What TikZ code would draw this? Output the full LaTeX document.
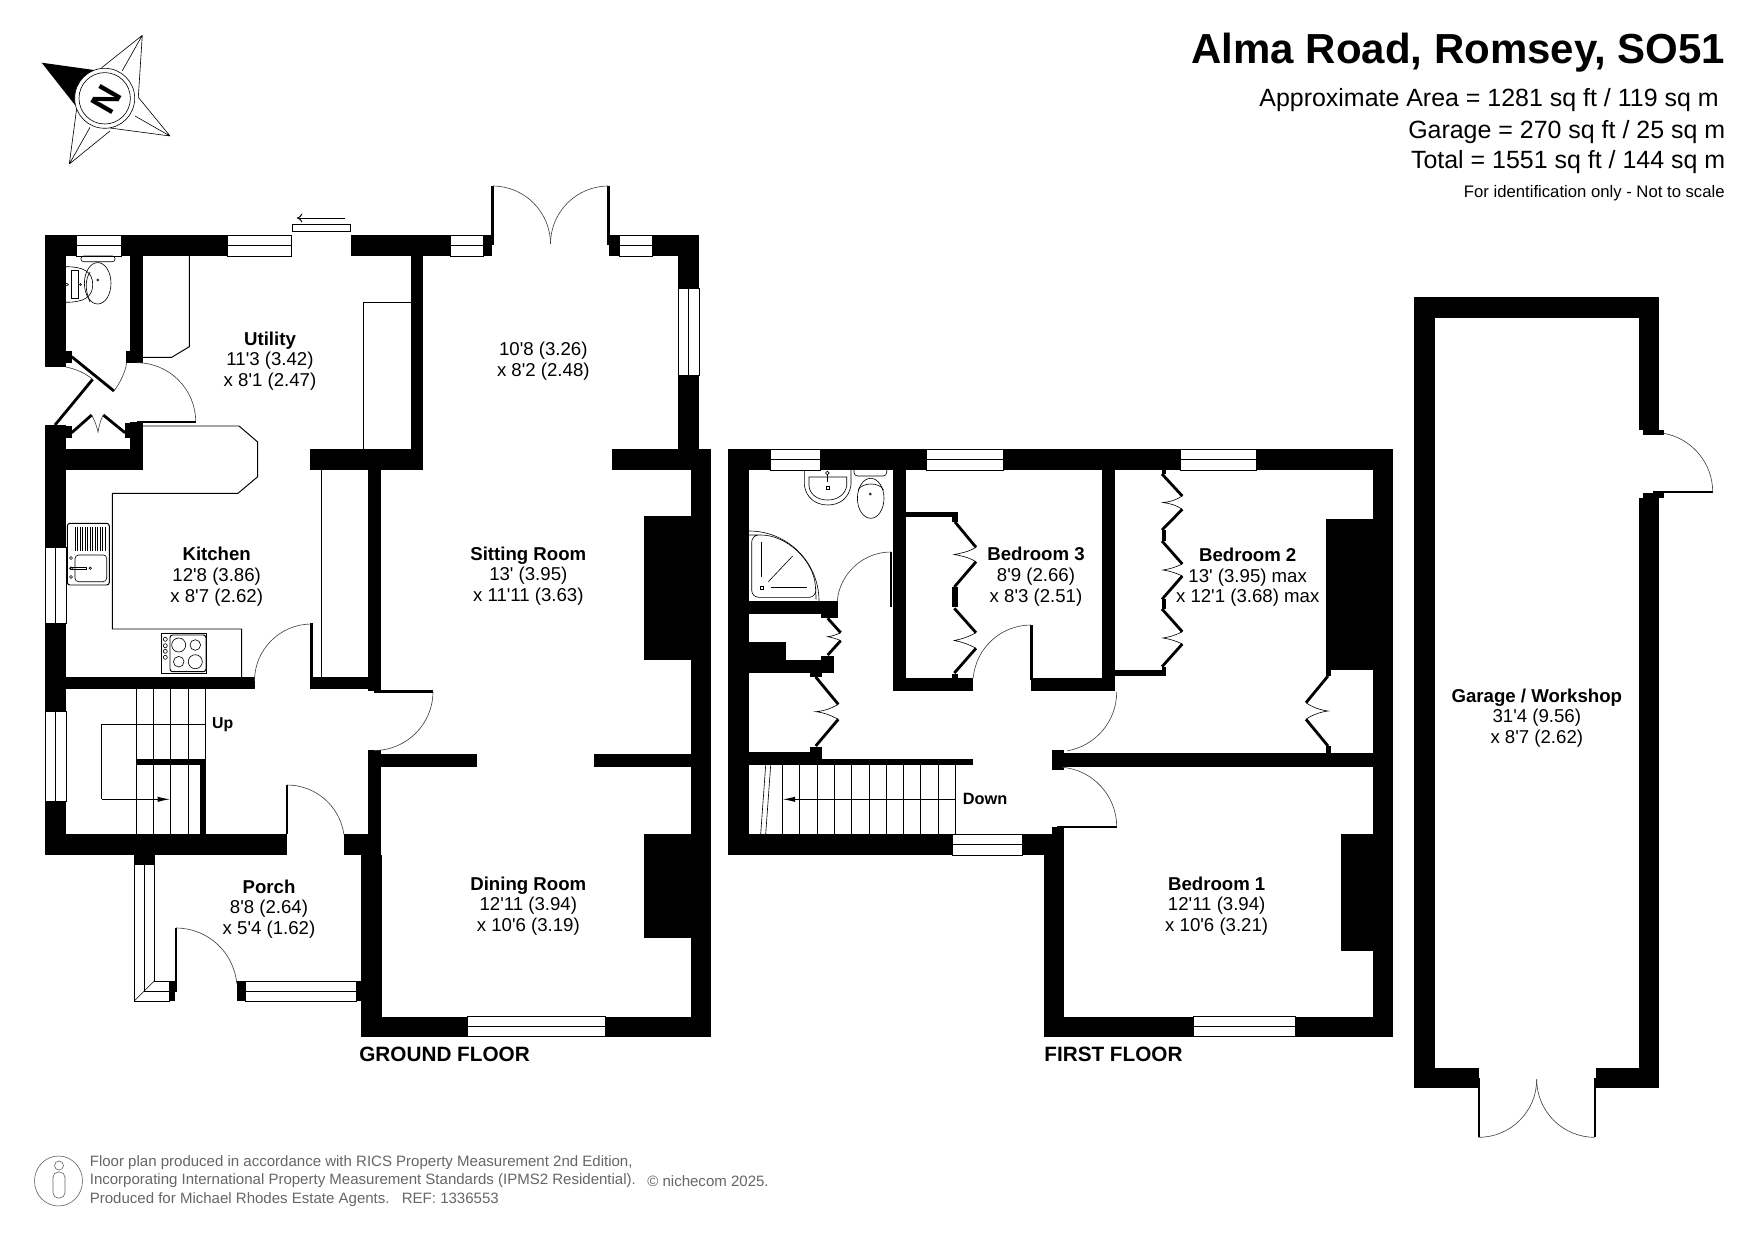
\documentclass[tikz,border=0pt]{standalone}
\usepackage{fontspec}
\usetikzlibrary{arrows.meta}
\newfontfamily\planfont{Liberation Sans}
\tikzset{
  wall/.style={fill=black},
  glazing/.style={draw=black,fill=white,line width=0.55pt},
  fitting/.style={draw=black,line width=0.55pt},
  finefitting/.style={draw=black,line width=0.35pt},
  doorswing/.style={draw=black!75,line width=0.35pt},
  doorleaf/.style={draw=black,line width=1.3pt},
  foldleaf/.style={draw=black,line width=1.6pt},
  roomtext/.style={font=\planfont\fontsize{10.6}{11.8}\selectfont,align=center,inner sep=0pt},
  floortext/.style={font=\planfont\bfseries\fontsize{11.8}{14}\selectfont,anchor=west,inner sep=0pt},
  headtext/.style={font=\planfont\fontsize{14.2}{16}\selectfont,anchor=east,inner sep=0pt},
  foottext/.style={font=\planfont\fontsize{8.55}{10}\selectfont,text=black!60,anchor=west,inner sep=0pt}
}

\begin{document}
\begin{tikzpicture}[x=0.02cm,y=-0.02cm]
\useasboundingbox (0,0) rectangle (1755,1241);
\fill[white] (0,0) rectangle (1755,1241);

% compass
\draw[finefitting] (142.3,35.3) -- (101.7,67.7) (142.3,35.3) -- (138.3,97.3) (142.3,35.3) -- (122.3,70.7);
\draw[finefitting] (170,136) -- (138.3,97.3) (170,136) -- (110,128) (170,136) -- (135,116);
\draw[finefitting] (69.3,164) -- (110,131) (69.3,164) -- (76.7,108.3) (69.3,164) -- (90,127.3);
\fill[wall] (41.7,62.7) -- (94,70) -- (75,105) -- cycle;
\draw[finefitting,fill=white] (104.7,98.3) circle (30);
\draw[finefitting] (104.7,98.3) circle (25.7);
\node[font=\planfont\bfseries\fontsize{20}{20}\selectfont,rotate=60,inner sep=0pt] (northmark) at (106,99) {N};

% title
\node[headtext,font=\planfont\bfseries\fontsize{23.9}{26}\selectfont] (title) at (1725.5,52.5) {Alma Road, Romsey, SO51};
\node[headtext] (areahouse) at (1719,100.5) {Approximate Area = 1281 sq ft / 119 sq m};
\node[headtext] (areagarage) at (1725.5,132) {Garage = 270 sq ft / 25 sq m};
\node[headtext] (areatotal) at (1725.5,162) {Total = 1551 sq ft / 144 sq m};
\node[headtext,font=\planfont\fontsize{9.5}{11}\selectfont] (scalenote) at (1725,193) {For identification only - Not to scale};

% ground floor walls
\fill[wall] (45,235) rectangle (291.7,256);
\fill[wall] (351,235) rectangle (492,256);
\fill[wall] (609,235) rectangle (699,256);
\fill[wall] (45,235) rectangle (66,367);
\fill[wall] (66,351) rectangle (71.7,363);
\fill[wall] (130,256) rectangle (142.7,363);
\fill[wall] (126,351) rectangle (130,363);
\fill[wall] (45,425) rectangle (66,855);
\fill[wall] (66,426) rectangle (71.7,438);
\fill[wall] (45,449) rectangle (142.7,470);
\fill[wall] (130,422) rectangle (142.7,470);
\fill[wall] (125,423) rectangle (130,438);
\fill[wall] (410.7,256) rectangle (422.7,449);
\fill[wall] (310,449) rectangle (422.7,470);
\fill[wall] (368,470) rectangle (381,691);
\fill[wall] (678,235) rectangle (699,470);
\fill[wall] (612,449) rectangle (711,470);
\fill[wall] (690.6,470) rectangle (711,1036.7);
\fill[wall] (66,677) rectangle (255,689);
\fill[wall] (313,677) rectangle (381,689);
\fill[wall] (368,750) rectangle (381,834);
\fill[wall] (368,754) rectangle (477,767);
\fill[wall] (594,754) rectangle (711,767);
\fill[wall] (45,834) rectangle (286.7,855);
\fill[wall] (344,834) rectangle (381,855);
\fill[wall] (361,855) rectangle (381.7,1036.7);
\fill[wall] (361,1016.7) rectangle (711,1036.7);
\fill[wall] (643.5,516) rectangle (690.6,660);
\fill[wall] (643.5,834) rectangle (690.6,938);
\fill[wall] (134.3,855) rectangle (154.7,864);
\fill[wall] (169,981) rectangle (175,1001);
\fill[wall] (237.3,981) rectangle (245.7,1001);
\fill[wall] (356,981) rectangle (361,1001);
\fill[wall] (135.7,759.3) rectangle (205.3,765);
\fill[wall] (200,759.3) rectangle (205.8,834);

% ground floor windows
\draw[glazing] (76.7,235) rectangle (121,256) (76.7,245.5) -- (121,245.5);
\draw[glazing] (227.7,235) rectangle (291.7,256) (227.7,245.5) -- (291.7,245.5);
\draw[glazing] (450,235) rectangle (483,256) (450,245.5) -- (483,245.5);
\draw[glazing] (619,235) rectangle (652,256) (619,245.5) -- (652,245.5);
\draw[glazing] (678,288) rectangle (699,375) (688.5,288) -- (688.5,375);
\draw[glazing] (45,547) rectangle (66,623) (55.5,547) -- (55.5,623);
\draw[glazing] (45,711) rectangle (66,801) (55.5,711) -- (55.5,801);
\draw[glazing] (467.7,1016.7) rectangle (605,1036.7) (467.7,1026.7) -- (605,1026.7);
\draw[glazing] (134.3,864) -- (134.3,1001) -- (169,1001) -- (169,981) -- (154.3,981) -- (154.3,864) -- cycle;
\draw[fitting] (144.3,864) -- (144.3,991) -- (169,991);
\draw[finefitting] (134.3,1001) -- (154.3,981);
\draw[glazing] (245.7,981) rectangle (356,1001) (245.7,991) -- (356,991);

% sliding door
\draw[fitting] (292.3,224.3) rectangle (350.7,231.7);
\draw[fitting,-{To[length=3pt,width=5pt]}] (345,218) -- (297,218);

% ground floor doors
\draw[doorleaf] (492.5,186) -- (492.5,245);
\draw[doorswing] (492.5,186) arc[start angle=-90,end angle=0,radius=58];
\draw[doorleaf] (608.5,186) -- (608.5,245);
\draw[doorswing] (608.5,186) arc[start angle=-90,end angle=-180,radius=58];
\draw[foldleaf] (71.7,356.7) -- (114,391);
\draw[doorswing] (114,391) .. controls (120,383) and (125,373) .. (126.7,363);
\draw[foldleaf] (92.7,379.3) -- (55,425);
\draw[doorswing] (92.7,379.3) .. controls (85,373) and (76,369) .. (66,367);
\draw[doorleaf] (136.7,421.7) -- (195.7,421.7);
\draw[doorswing] (195.7,421.7) arc[start angle=0,end angle=-90,radius=59];
\draw[foldleaf] (71.7,432.7) -- (91.7,415);
\draw[foldleaf] (103.3,415) -- (125,432.7);
\draw[doorswing] (91.7,415) .. controls (95,421) and (97,427) .. (98,432) .. controls (99,427) and (100,421) .. (103.3,415);
\draw[doorleaf] (311.5,623) -- (311.5,689);
\draw[doorswing] (311.5,624) arc[start angle=-90,end angle=-180,radius=57];
\draw[doorleaf] (374,691.5) -- (433,691.5);
\draw[doorswing] (433,691.5) arc[start angle=0,end angle=90,radius=59];
\draw[doorleaf] (287,785) -- (287,834);
\draw[doorswing] (287,785) arc[start angle=-90,end angle=-8,radius=57.5];
\draw[doorleaf] (176,928) -- (176,992);
\draw[doorswing] (176,928) arc[start angle=-90,end angle=-5,radius=61];

% kitchen and utility fittings
\draw[fitting] (142.7,426) -- (239,426) -- (257.7,442) -- (257.7,476.7) -- (238,493.3) -- (112.3,493.3) -- (112.3,629) -- (241.7,629) -- (241.7,677);
\draw[fitting] (189.3,256) -- (189.3,346.7) -- (171.7,357.3) -- (142.7,357.3);
\draw[fitting] (363.3,449) -- (363.3,302.3) -- (410.7,302.3);
\draw[fitting] (321.7,470) -- (321.7,677);
\draw[fitting,rounded corners=1.5pt] (67.3,523.3) rectangle (109.3,585);
\draw[fitting] (75,527) -- (75,551) (77.5,527) -- (77.5,551) (80,527) -- (80,551) (82.5,527) -- (82.5,551) (85,527) -- (85,551) (87.5,527) -- (87.5,551) (90,527) -- (90,551) (92.5,527) -- (92.5,551) (95,527) -- (95,551) (97.5,527) -- (97.5,551) (100,527) -- (100,551) (102.5,527) -- (102.5,551) (105,527) -- (105,551);
\draw[finefitting,rounded corners=2pt] (75,555) rectangle (106.7,581.7);
\draw[fitting] (70,567.5) rectangle (86.7,569);
\draw[finefitting] (90.3,568.3) circle (1.2) (71,558) circle (1.5) (71,568.3) circle (1.5) (71,577) circle (1.5);
\draw[fitting] (161.3,633.3) rectangle (206.7,673.3);
\draw[fitting,rounded corners=1.5pt] (170,635) rectangle (206,671.7);
\draw[finefitting] (178.7,645) circle (7) (195.3,645) circle (5.3) (178.7,661.7) circle (5.3) (195.3,661.7) circle (7);
\draw[finefitting] (165.3,639.3) circle (2) (165.3,645.7) circle (2) (165.3,651.3) circle (2) (165.3,657.3) circle (2);
\draw[finefitting] (65.7,266.7) .. controls (84,266.7) and (92.7,272) .. (92.7,284.5) .. controls (92.7,297) and (84,302.3) .. (65.7,302.3);
\draw[finefitting] (71.7,270.5) rectangle (78,298.5);
\draw[finefitting] (66,284.5) ellipse (2.5 and 1);
\draw[finefitting] (80.5,284.5) circle (1);
\draw[finefitting] (97.7,283.3) ellipse (13.3 and 20.7);
\draw[finefitting] (90,272) .. controls (85,280) and (85,290) .. (90,302);
\draw[finefitting,rounded corners=1.5pt] (81,256) rectangle (115,261.7);
\draw[finefitting] (97.7,280) circle (1);

% ground floor stairs
\draw[fitting] (136.7,689) -- (136.7,834) (153.3,689) -- (153.3,834) (170.7,689) -- (170.7,834) (188.3,689) -- (188.3,834) (205.3,689) -- (205.3,760);
\draw[fitting] (205.3,724.3) -- (101.7,724.3) -- (101.7,799.3);
\draw[fitting,-{Latex[length=7pt,width=3pt]}] (101.7,799.3) -- (170,799.3);

% first floor walls
\fill[wall] (727.7,449.3) rectangle (1393.3,470);
\fill[wall] (727.7,449.3) rectangle (749,855);
\fill[wall] (1373.3,449.3) rectangle (1393.3,1036.7);
\fill[wall] (727.7,834) rectangle (1064,855);
\fill[wall] (1044,834) rectangle (1064,1036.7);
\fill[wall] (1052,826.7) rectangle (1064,834);
\fill[wall] (1044,1016.7) rectangle (1393.3,1036.7);
\fill[wall] (1064,753) rectangle (1373.3,766.7);
\fill[wall] (1051.7,750) rectangle (1064,770);
\fill[wall] (893.3,470) rectangle (905.7,690.7);
\fill[wall] (893.3,678.3) rectangle (972.7,690.7);
\fill[wall] (1031,678.3) rectangle (1115,690.7);
\fill[wall] (1102.3,470) rectangle (1115,690.7);
\fill[wall] (1115,670) rectangle (1166,676);
\fill[wall] (905.7,511.7) rectangle (957.7,517.3);
\fill[wall] (952.3,511.7) rectangle (957.7,522);
\fill[wall] (952.3,587) rectangle (957.7,607);
\fill[wall] (952.3,674) rectangle (957.7,678.3);
\fill[wall] (749,601) rectangle (837.7,614);
\fill[wall] (821,614) rectangle (837.7,617.7);
\fill[wall] (749,660) rectangle (834,672.7);
\fill[wall] (820.7,656) rectangle (834,660);
\fill[wall] (749,641.7) rectangle (786,660);
\fill[wall] (810,672.7) rectangle (821.7,677);
\fill[wall] (749,752.3) rectangle (810,765);
\fill[wall] (810,746.7) rectangle (821.7,765);
\fill[wall] (821.7,759) rectangle (972.7,765);
\fill[wall] (1161.7,470) rectangle (1166,474);
\fill[wall] (1161.7,530) rectangle (1166,541);
\fill[wall] (1161.7,599) rectangle (1166,609);
\fill[wall] (1161.7,666.7) rectangle (1166,670);
\fill[wall] (1325.7,519) rectangle (1373.3,670);
\fill[wall] (1325.7,670) rectangle (1330.7,676);
\fill[wall] (1325.7,746) rectangle (1330.7,753);
\fill[wall] (1341,834) rectangle (1373.3,951);

% first floor windows
\draw[glazing] (770,449.3) rectangle (820,470) (770,459.6) -- (820,459.6);
\draw[glazing] (926.7,449.3) rectangle (1003.3,470) (926.7,459.6) -- (1003.3,459.6);
\draw[glazing] (1180,449.3) rectangle (1256,470) (1180,459.6) -- (1256,459.6);
\draw[glazing] (952.7,834) rectangle (1022,855) (952.7,844.5) -- (1022,844.5);
\draw[glazing] (1193.5,1016.7) rectangle (1295,1036.7) (1193.5,1026.7) -- (1295,1026.7);

% first floor doors
\draw[doorleaf] (891,552) -- (891,607);
\draw[doorswing] (891,552) arc[start angle=-90,end angle=-175,radius=54];
\draw[doorleaf] (1031.5,625) -- (1031.5,680);
\draw[doorswing] (1031,625) arc[start angle=-90,end angle=-175,radius=58];
\draw[doorswing] (1116.7,692) arc[start angle=0,end angle=80,radius=59.7];
\draw[doorleaf] (1057,826.7) -- (1116.7,826.7);
\draw[doorswing] (1116.7,826.7) arc[start angle=0,end angle=-85,radius=59.7];

% first floor folding doors
\draw[foldleaf] (955,522) -- (976,547.3) (976,561.7) -- (954.3,587);
\draw[foldleaf] (954.3,608.3) -- (976,632.7) (976,648.3) -- (954.3,673);
\draw[finefitting] (976,547.3) .. controls (968,552) and (962,553) .. (954.3,554.5) .. controls (962,556) and (968,557) .. (976,561.7);
\draw[finefitting] (976,632.7) .. controls (968,637) and (962,639) .. (954.3,640.5) .. controls (962,642) and (968,644) .. (976,648.3);
\draw[foldleaf] (827.7,618.3) -- (840.7,632.7) (840.7,640.7) -- (827.7,655);
\draw[finefitting] (840.7,632.7) .. controls (836,635) and (832,636) .. (827.7,636.7) .. controls (832,637.5) and (836,638.5) .. (840.7,640.7);
\draw[foldleaf] (815.7,677) -- (838.3,704.3) (838.3,719.3) -- (815.7,746);
\draw[finefitting] (838.3,704.3) .. controls (830,709) and (824,711) .. (815.7,711.7) .. controls (824,712.5) and (830,715) .. (838.3,719.3);
\draw[foldleaf] (1162,474) -- (1182.3,496) (1182.3,509.3) -- (1162,530);
\draw[finefitting] (1182.3,496) .. controls (1176,500) and (1170,502) .. (1163,502.5) .. controls (1170,503.5) and (1176,505) .. (1182.3,509.3);
\draw[foldleaf] (1162,541) -- (1182.3,564) (1182.3,576) -- (1162,599.3);
\draw[finefitting] (1182.3,564) .. controls (1176,567) and (1170,569) .. (1163,570) .. controls (1170,571) and (1176,573) .. (1182.3,576);
\draw[foldleaf] (1162,609) -- (1182.3,631.7) (1182.3,644) -- (1162,666.7);
\draw[finefitting] (1182.3,631.7) .. controls (1176,635) and (1170,637) .. (1163,638) .. controls (1170,639) and (1176,641) .. (1182.3,644);
\draw[foldleaf] (1328,676) -- (1306,702.7) (1306,719.3) -- (1328,746);
\draw[finefitting] (1306,702.7) .. controls (1312,707) and (1320,710) .. (1328,711) .. controls (1320,712) and (1312,715) .. (1306,719.3);

% bathroom fittings
\draw[finefitting] (804.3,470) -- (804.3,485) .. controls (806,498) and (816,505) .. (827.7,505) .. controls (840,505) and (849,498) .. (851,485) -- (851,470);
\draw[finefitting] (809,477) -- (846.7,477) -- (846.7,486) .. controls (845,495) and (837,500) .. (827.7,500) .. controls (818,500) and (810,495) .. (809,486) -- cycle;
\draw[finefitting,fill=white] (827.3,473) circle (1.8);
\draw[fitting] (827.3,475) -- (827.3,482);
\draw[fitting] (826.3,486.7) rectangle (829.7,489.7);
\draw[finefitting,rounded corners=2pt] (854,470) -- (854,476) -- (886.7,476) -- (886.7,470);
\draw[finefitting] (870.7,498.3) ellipse (13.3 and 20);
\draw[finefitting] (858,490) .. controls (862,482) and (880,482) .. (883.5,490);
\draw[finefitting] (870.3,494) circle (1);
\draw[finefitting] (749,531) arc[start angle=-90,end angle=0,radius=70] -- (819,601);
\draw[finefitting,rounded corners=4pt] (751.7,535) -- (754,535) arc[start angle=-90,end angle=-4,radius=62] -- (816,597.3) -- (751.7,597.3) -- cycle;
\draw[fitting] (761.7,541.7) -- (761.7,576.7) (771,587.7) -- (806.7,587.7);
\draw[finefitting] (768.3,581.7) -- (792.7,556);
\draw[fitting] (760.5,586) rectangle (763.5,589);

% first floor stairs
\draw[fitting] (782.7,765) -- (782.7,834) (799.3,765) -- (799.3,834) (817.3,765) -- (817.3,834) (834.3,765) -- (834.3,834) (851.3,765) -- (851.3,834) (869.3,765) -- (869.3,834) (886.7,765) -- (886.7,834) (903.3,765) -- (903.3,834) (920.3,765) -- (920.3,834) (938.3,765) -- (938.3,834) (955.3,765) -- (955.3,834);
\draw[fitting,-{Latex[length=7pt,width=3pt]}] (955.3,799.3) -- (782.7,799.3);
\draw[finefitting] (765.7,765) -- (760.7,834) (770.7,765) -- (765.7,834);

% garage
\fill[wall] (1414,297.3) rectangle (1659.3,318);
\fill[wall] (1414,297.3) rectangle (1435,1088.3);
\fill[wall] (1639.3,297.3) rectangle (1659.3,430);
\fill[wall] (1643,430) rectangle (1664,435);
\fill[wall] (1643,492.7) rectangle (1664,498);
\fill[wall] (1639.3,498) rectangle (1659.3,1088.3);
\fill[wall] (1414,1068) rectangle (1479,1088.3);
\fill[wall] (1595.7,1068) rectangle (1659.3,1088.3);
\draw[doorleaf] (1653,492) -- (1712.7,492);
\draw[doorswing] (1712.7,492) arc[start angle=0,end angle=-80,radius=59.7];
\draw[doorleaf] (1478.7,1078) -- (1478.7,1137.3);
\draw[doorswing] (1478.7,1137.3) arc[start angle=90,end angle=0,radius=58];
\draw[doorleaf] (1594.7,1078) -- (1594.7,1137.3);
\draw[doorswing] (1594.7,1137.3) arc[start angle=90,end angle=180,radius=58];

% room labels
\node[roomtext] (utility) at (270,361) {\textbf{Utility}\\11'3 (3.42)\\x 8'1 (2.47)};
\node[roomtext] (sunroom) at (543.3,361.5) {10'8 (3.26)\\x 8'2 (2.48)};
\node[roomtext] (kitchen) at (216.7,576.7) {\textbf{Kitchen}\\12'8 (3.86)\\x 8'7 (2.62)};
\node[roomtext] (sitting) at (528.3,576) {\textbf{Sitting Room}\\13' (3.95)\\x 11'11 (3.63)};
\node[roomtext] (dining) at (528.3,906) {\textbf{Dining Room}\\12'11 (3.94)\\x 10'6 (3.19)};
\node[roomtext] (porch) at (269,909) {\textbf{Porch}\\8'8 (2.64)\\x 5'4 (1.62)};
\node[roomtext] (bedthree) at (1036,576.7) {\textbf{Bedroom 3}\\8'9 (2.66)\\x 8'3 (2.51)};
\node[roomtext] (bedtwo) at (1247.7,577.3) {\textbf{Bedroom 2}\\13' (3.95) max\\x 12'1 (3.68) max};
\node[roomtext] (bedone) at (1216.7,906) {\textbf{Bedroom 1}\\12'11 (3.94)\\x 10'6 (3.21)};
\node[roomtext] (garage) at (1536.8,718) {\textbf{Garage / Workshop}\\31'4 (9.56)\\x 8'7 (2.62)};
\node[roomtext,font=\planfont\bfseries\fontsize{9}{11}\selectfont] (stairup) at (222.7,724.7) {Up};
\node[roomtext,font=\planfont\bfseries\fontsize{9.3}{11}\selectfont] (stairdown) at (985,798.5) {Down};
\node[floortext] (groundfloor) at (359,1054.5) {GROUND FLOOR};
\node[floortext] (firstfloor) at (1044,1054.5) {FIRST FLOOR};

% footer
\draw[finefitting,black!60] (58.5,1181) ellipse (24 and 25);
\draw[finefitting,black!60] (59,1165.5) circle (4.5);
\draw[finefitting,black!60,rounded corners=3pt] (53,1172) rectangle (65,1198);
\node[foottext] (footone) at (89.5,1163) {Floor plan produced in accordance with RICS Property Measurement 2nd Edition,};
\node[foottext] (foottwo) at (89.5,1181) {Incorporating International Property Measurement Standards (IPMS2 Residential).};
\node[foottext] (footbrand) at (647,1181) {© nichecom 2025.};
\node[foottext] (footthree) at (89.5,1200) {Produced for Michael Rhodes Estate Agents.\hspace{7pt}REF: 1336553};
\end{tikzpicture}
\end{document}
